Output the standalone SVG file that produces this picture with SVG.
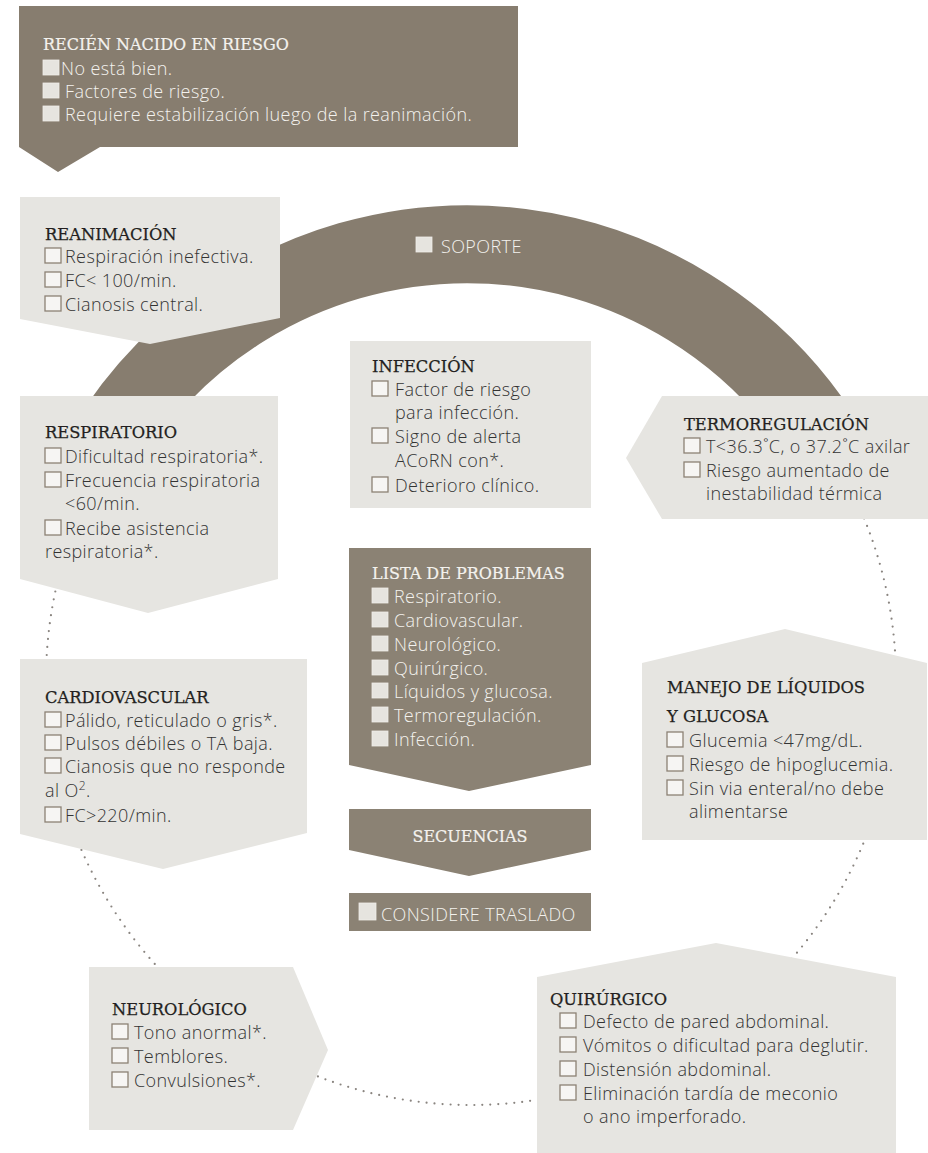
<svg xmlns="http://www.w3.org/2000/svg" width="928" height="1153" viewBox="0 0 928 1153">
<style>
.dk{fill:#877d6f}
.dk2{fill:#8b8274}
.lt{fill:#e6e5e1}
.h{font-family:"DejaVu Serif","Liberation Serif",serif;font-size:16.3px;fill:#231f20;stroke:#231f20;stroke-width:0.25}
.hw{font-family:"DejaVu Serif","Liberation Serif",serif;font-size:16px;fill:#f4f2ee;stroke:#f4f2ee;stroke-width:0.2}
.t{font-family:"Open Sans",Lato,"Liberation Sans",sans-serif;font-weight:300;font-size:18px;letter-spacing:0.4px;fill:#333333}
.tw{font-family:"Open Sans",Lato,"Liberation Sans",sans-serif;font-weight:300;font-size:18px;letter-spacing:0.4px;fill:#f4f2ee}
.cb{fill:#f6f5f3;stroke:#8c8174;stroke-width:1.3}
.cbd{fill:#e6e4df;stroke:#efede9;stroke-width:0.8}
</style>
<g id="connectors">
<circle cx="471" cy="680" r="425" fill="none" stroke="#8a8580" stroke-width="2.2" stroke-linecap="round" stroke-dasharray="0 8"/>
<path d="M104,450 A423,423 0 0 1 830,450" fill="none" stroke="#877d6f" stroke-width="78"/>
</g>
<g id="soporte">
<rect class="cbd" x="416" y="237" width="16" height="15"/>
<text class="tw" x="441" y="253">SOPORTE</text>
</g>
<g id="recien-nacido">
<polygon class="dk" points="19,6 518,6 518,147 100,147 58,172 19,147"/>
<text class="hw" x="43" y="50">RECIÉN NACIDO EN RIESGO</text>
<rect class="cbd" x="43" y="60" width="16" height="15"/>
<text class="tw" x="61" y="75">No está bien.</text>
<rect class="cbd" x="43" y="83" width="16" height="15"/>
<text class="tw" x="65" y="98">Factores de riesgo.</text>
<rect class="cbd" x="43" y="106" width="16" height="15"/>
<text class="tw" x="65" y="121">Requiere estabilización luego de la reanimación.</text>
</g>
<g id="reanimacion">
<polygon class="lt" points="20,197 280,197 280,318 150,344 20,319"/>
<text class="h" x="45" y="240">REANIMACIÓN</text>
<rect class="cb" x="45" y="248" width="16" height="15"/>
<text class="t" x="65" y="263">Respiración inefectiva.</text>
<rect class="cb" x="45" y="272" width="16" height="15"/>
<text class="t" x="65" y="287">FC&lt; 100/min.</text>
<rect class="cb" x="45" y="296" width="16" height="15"/>
<text class="t" x="65" y="311">Cianosis central.</text>
</g>
<g id="infeccion">
<rect class="lt" x="350" y="341" width="241" height="167"/>
<text class="h" x="372" y="372">INFECCIÓN</text>
<rect class="cb" x="372" y="381" width="16" height="15"/>
<text class="t" x="395" y="396">Factor de riesgo</text>
<text class="t" x="395" y="419">para infección.</text>
<rect class="cb" x="372" y="428" width="16" height="15"/>
<text class="t" x="395" y="443">Signo de alerta</text>
<text class="t" x="395" y="467">ACoRN con*.</text>
<rect class="cb" x="372" y="477" width="16" height="15"/>
<text class="t" x="395" y="492">Deterioro clínico.</text>
</g>
<g id="respiratorio">
<polygon class="lt" points="20,396 278,396 278,579 148,613 20,579"/>
<text class="h" x="45" y="438">RESPIRATORIO</text>
<rect class="cb" x="45" y="448" width="16" height="15"/>
<text class="t" x="65" y="463">Dificultad respiratoria*.</text>
<rect class="cb" x="45" y="472" width="16" height="15"/>
<text class="t" x="65" y="487">Frecuencia respiratoria</text>
<text class="t" x="65" y="510">&lt;60/min.</text>
<rect class="cb" x="45" y="520" width="16" height="15"/>
<text class="t" x="65" y="535">Recibe asistencia</text>
<text class="t" x="45" y="558">respiratoria*.</text>
</g>
<g id="termoregulacion">
<polygon class="lt" points="662,396 928,396 928,519 662,519 626,458"/>
<text class="h" x="684" y="430">TERMOREGULACIÓN</text>
<rect class="cb" x="684" y="438" width="16" height="15"/>
<text class="t" x="706" y="453">T&lt;36.3˚C, o 37.2˚C axilar</text>
<rect class="cb" x="684" y="462" width="16" height="15"/>
<text class="t" x="706" y="477">Riesgo aumentado de</text>
<text class="t" x="706" y="500">inestabilidad térmica</text>
</g>
<g id="lista-problemas">
<polygon class="dk2" points="349,548 591,548 591,765 469,791 349,765"/>
<text class="hw" x="372" y="579">LISTA DE PROBLEMAS</text>
<rect class="cbd" x="372" y="588" width="16" height="15"/>
<text class="tw" x="394" y="603">Respiratorio.</text>
<rect class="cbd" x="372" y="612" width="16" height="15"/>
<text class="tw" x="394" y="627">Cardiovascular.</text>
<rect class="cbd" x="372" y="636" width="16" height="15"/>
<text class="tw" x="394" y="651">Neurológico.</text>
<rect class="cbd" x="372" y="660" width="16" height="15"/>
<text class="tw" x="394" y="675">Quirúrgico.</text>
<rect class="cbd" x="372" y="683" width="16" height="15"/>
<text class="tw" x="394" y="698">Líquidos y glucosa.</text>
<rect class="cbd" x="372" y="707" width="16" height="15"/>
<text class="tw" x="394" y="722">Termoregulación.</text>
<rect class="cbd" x="372" y="731" width="16" height="15"/>
<text class="tw" x="394" y="746">Infección.</text>
</g>
<g id="secuencias">
<polygon class="dk2" points="349,809 591,809 591,850 469,876 349,850"/>
<text class="hw" x="470" y="842" text-anchor="middle">SECUENCIAS</text>
</g>
<g id="considere-traslado">
<rect class="dk2" x="349" y="893" width="242" height="38"/>
<rect class="cbd" x="359" y="903" width="17" height="17"/>
<text class="tw" x="381" y="921">CONSIDERE TRASLADO</text>
</g>
<g id="cardiovascular">
<polygon class="lt" points="20,659 307,659 307,833 163,869 20,834"/>
<text class="h" x="45" y="703">CARDIOVASCULAR</text>
<rect class="cb" x="45" y="712" width="16" height="15"/>
<text class="t" x="65" y="727">Pálido, reticulado o gris*.</text>
<rect class="cb" x="45" y="735" width="16" height="15"/>
<text class="t" x="65" y="750">Pulsos débiles o TA baja.</text>
<rect class="cb" x="45" y="758" width="16" height="15"/>
<text class="t" x="65" y="773">Cianosis que no responde</text>
<text class="t" x="45" y="797">al O<tspan font-size="12" dy="-7">2</tspan><tspan dy="7">.</tspan></text>
<rect class="cb" x="45" y="807" width="16" height="15"/>
<text class="t" x="65" y="822">FC&gt;220/min.</text>
</g>
<g id="manejo-liquidos">
<polygon class="lt" points="642,663 785,629 927,663 927,840 642,840"/>
<text class="h" x="667" y="693">MANEJO DE LÍQUIDOS</text>
<text class="h" x="667" y="722">Y GLUCOSA</text>
<rect class="cb" x="667" y="732" width="16" height="15"/>
<text class="t" x="689" y="747">Glucemia &lt;47mg/dL.</text>
<rect class="cb" x="667" y="756" width="16" height="15"/>
<text class="t" x="689" y="771">Riesgo de hipoglucemia.</text>
<rect class="cb" x="667" y="780" width="16" height="15"/>
<text class="t" x="689" y="795">Sin via enteral/no debe</text>
<text class="t" x="689" y="818">alimentarse</text>
</g>
<g id="neurologico">
<polygon class="lt" points="89,967 293,967 328,1050 293,1130 89,1130"/>
<text class="h" x="112" y="1015">NEUROLÓGICO</text>
<rect class="cb" x="112" y="1024" width="16" height="15"/>
<text class="t" x="134" y="1039">Tono anormal*.</text>
<rect class="cb" x="112" y="1048" width="16" height="15"/>
<text class="t" x="134" y="1063">Temblores.</text>
<rect class="cb" x="112" y="1072" width="16" height="15"/>
<text class="t" x="134" y="1087">Convulsiones*.</text>
</g>
<g id="quirurgico">
<polygon class="lt" points="537,977 716,943 896,977 896,1153 537,1153"/>
<text class="h" x="550" y="1005">QUIRÚRGICO</text>
<rect class="cb" x="560" y="1013" width="16" height="15"/>
<text class="t" x="583" y="1028">Defecto de pared abdominal.</text>
<rect class="cb" x="560" y="1037" width="16" height="15"/>
<text class="t" x="583" y="1052">Vómitos o dificultad para deglutir.</text>
<rect class="cb" x="560" y="1061" width="16" height="15"/>
<text class="t" x="583" y="1076">Distensión abdominal.</text>
<rect class="cb" x="560" y="1085" width="16" height="15"/>
<text class="t" x="583" y="1100">Eliminación tardía de meconio</text>
<text class="t" x="583" y="1123">o ano imperforado.</text>
</g>
</svg>
